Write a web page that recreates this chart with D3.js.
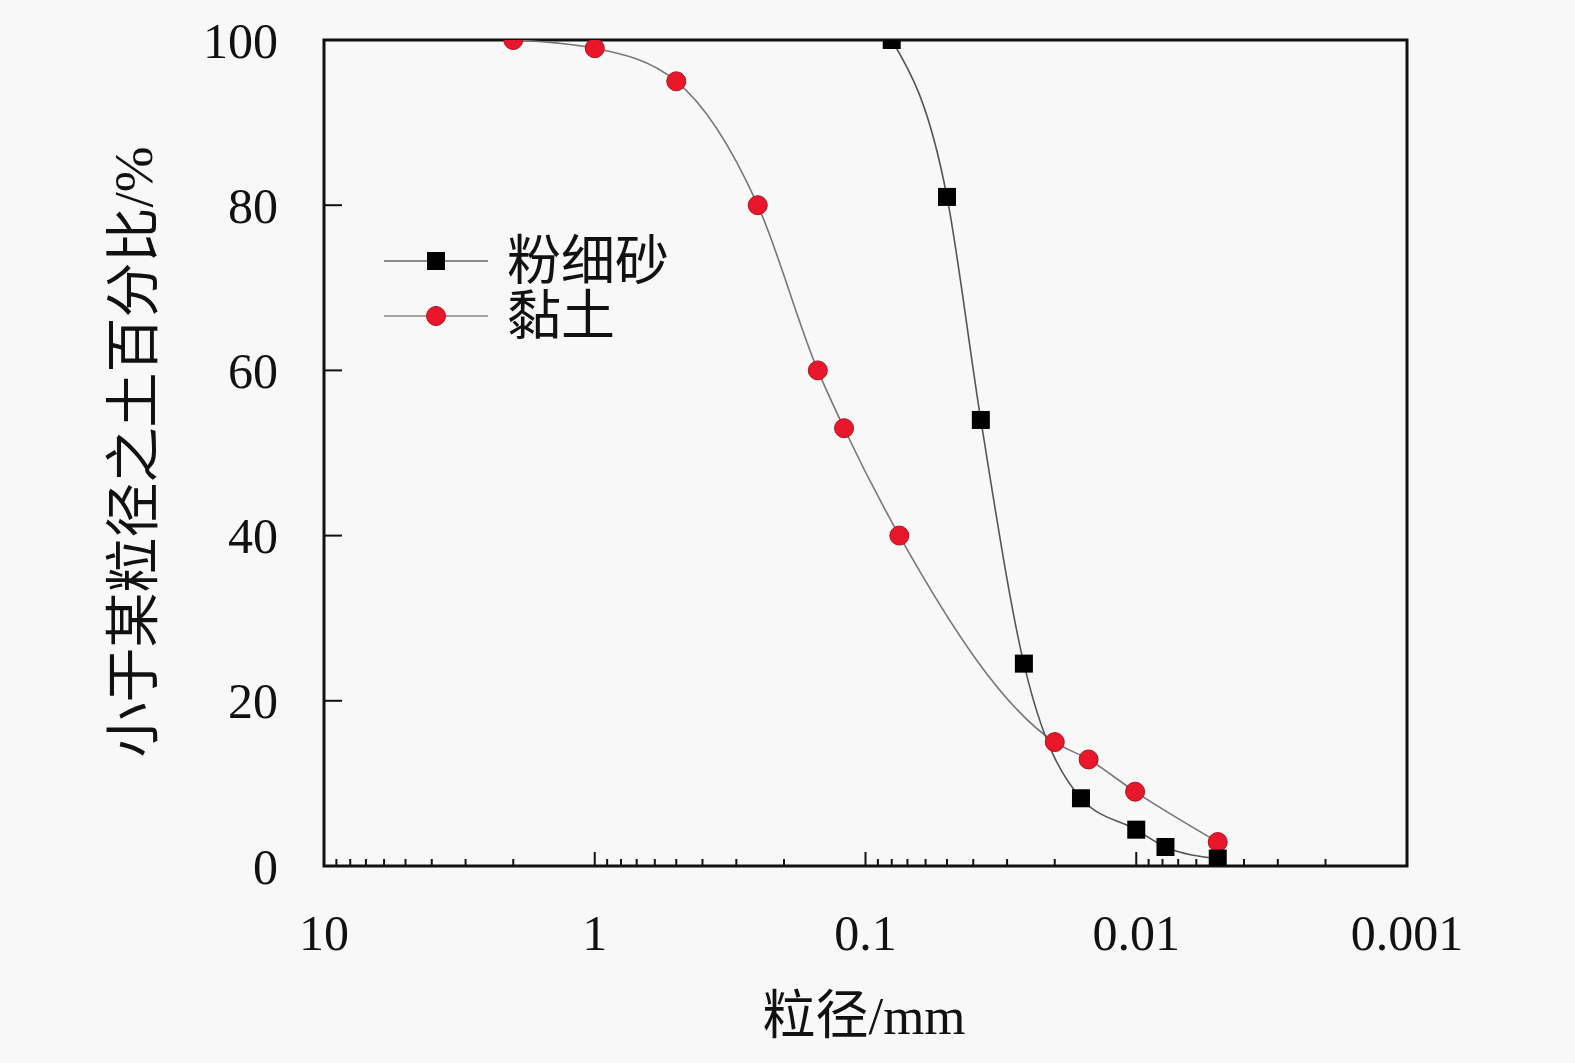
<!DOCTYPE html>
<html>
<head>
<meta charset="utf-8">
<script src="https://cdn.jsdelivr.net/npm/d3@7"></script>
<style>
  html, body { margin: 0; background: #f8f8f8; overflow: hidden; }
  svg { display: block; }
  text { font-family: "Liberation Serif", "Noto Sans CJK SC", serif; fill: #111; }
</style>
</head>
<body>
<svg id="chart"></svg>
<script>
// Data
var sandSize = [0.08, 0.05, 0.0375, 0.026, 0.016, 0.01, 0.0078, 0.005];
var sandPct  = [100, 81, 54, 24.5, 8.2, 4.4, 2.3, 0.9];
var claySize = [2, 1, 0.5, 0.25, 0.15, 0.12, 0.075, 0.02, 0.015, 0.0101, 0.005];
var clayPct  = [100, 99, 95, 80, 60, 53, 40, 15, 12.9, 9, 2.9];
var seriesNames = ["粉细砂", "黏土"];
var xTicks = [10, 1, 0.1, 0.01, 0.001];
var yTicks = [0, 20, 40, 60, 80, 100];

// Chart size params
var margin = {top: 40, left: 324};
var width = 1083;
var height = 826;

var x = d3.scaleLog().domain([10, 0.001]).range([0, width]),
    y = d3.scaleLinear().domain([0, 100]).range([height, 0]);

var svg = d3.select("#chart")
    .attr("width", 1575)
    .attr("height", 1063)
  .append("g")
    .attr("transform", "translate(" + margin.left + "," + margin.top + ")");

svg.append("defs").append("clipPath")
    .attr("id", "clip")
  .append("rect")
    .attr("width", width)
    .attr("height", height);

// Minor + major ticks on x (pointing inside)
var minor = [];
[10, 1, 0.1, 0.01].forEach(function(d) {
  for (var k = 2; k <= 9; k++) minor.push(d / 10 * k);
});
svg.selectAll(".xminor")
    .data(minor)
  .enter().append("line")
    .attr("x1", function(d) { return x(d); })
    .attr("x2", function(d) { return x(d); })
    .attr("y1", height)
    .attr("y2", height - 7)
    .style("stroke", "#111")
    .style("stroke-width", 2);

svg.selectAll(".xmajor")
    .data(xTicks)
  .enter().append("line")
    .attr("x1", function(d) { return x(d); })
    .attr("x2", function(d) { return x(d); })
    .attr("y1", height)
    .attr("y2", height - 14)
    .style("stroke", "#111")
    .style("stroke-width", 2);

svg.selectAll(".xlabel")
    .data(xTicks)
  .enter().append("text")
    .attr("x", function(d) { return x(d); })
    .attr("y", height + 84)
    .attr("text-anchor", "middle")
    .style("font-size", "50px")
    .text(function(d) { return d; });

svg.selectAll(".ytick")
    .data(yTicks)
  .enter().append("line")
    .attr("x1", 0)
    .attr("x2", 18)
    .attr("y1", function(d) { return y(d); })
    .attr("y2", function(d) { return y(d); })
    .style("stroke", "#111")
    .style("stroke-width", 2);

svg.selectAll(".ylabel")
    .data(yTicks)
  .enter().append("text")
    .attr("x", -46)
    .attr("y", function(d) { return y(d); })
    .attr("dy", ".35em")
    .attr("text-anchor", "end")
    .style("font-size", "50px")
    .text(function(d) { return d; });

// Frame
svg.append("rect")
    .attr("width", width)
    .attr("height", height)
    .style("fill", "none")
    .style("stroke", "#111")
    .style("stroke-width", 3);

// Axis titles
svg.append("text")
    .attr("x", 540)
    .attr("y", height + 168)
    .attr("text-anchor", "middle")
    .style("font-size", "53px")
    .text("粒径/mm");

svg.append("text")
    .attr("transform", "translate(-172,412)rotate(-90)")
    .attr("text-anchor", "middle")
    .style("font-size", "55px")
    .text("小于某粒径之土百分比/%");

// Series
var line = d3.line()
    .x(function(d) { return x(d[0]); })
    .y(function(d) { return y(d[1]); })
    .curve(d3.curveMonotoneX);

var sand = sandSize.map(function(d, i) { return [d, sandPct[i]]; });
var clay = claySize.map(function(d, i) { return [d, clayPct[i]]; });

var plot = svg.append("g").attr("clip-path", "url(#clip)");

plot.append("path")
    .datum(clay)
    .attr("d", line)
    .style("fill", "none")
    .style("stroke", "#777")
    .style("stroke-width", 1.6);

plot.append("path")
    .datum(sand)
    .attr("d", line)
    .style("fill", "none")
    .style("stroke", "#555")
    .style("stroke-width", 1.6);

plot.selectAll(".clay")
    .data(clay)
  .enter().append("circle")
    .attr("cx", function(d) { return x(d[0]); })
    .attr("cy", function(d) { return y(d[1]); })
    .attr("r", 9.5)
    .style("fill", "#e8182a")
    .style("stroke", "#b01020")
    .style("stroke-width", 1);

plot.selectAll(".sand")
    .data(sand)
  .enter().append("rect")
    .attr("x", function(d) { return x(d[0]) - 9; })
    .attr("y", function(d) { return y(d[1]) - 9; })
    .attr("width", 18)
    .attr("height", 18)
    .style("fill", "#000");

// Legend
var legend = svg.append("g");
var ly = [221, 276];

legend.selectAll(".lline")
    .data(ly)
  .enter().append("line")
    .attr("x1", 60)
    .attr("x2", 164)
    .attr("y1", function(d) { return d; })
    .attr("y2", function(d) { return d; })
    .style("stroke", function(d, i) { return i ? "#888" : "#666"; })
    .style("stroke-width", 1.6);

legend.append("rect")
    .attr("x", 112 - 9)
    .attr("y", ly[0] - 9)
    .attr("width", 18)
    .attr("height", 18)
    .style("fill", "#000");

legend.append("circle")
    .attr("cx", 112)
    .attr("cy", ly[1])
    .attr("r", 9.5)
    .style("fill", "#e8182a")
    .style("stroke", "#b01020");

legend.selectAll(".ltext")
    .data(seriesNames)
  .enter().append("text")
    .attr("x", 183)
    .attr("y", function(d, i) { return ly[i]; })
    .attr("dy", ".35em")
    .style("font-size", "54px")
    .text(function(d) { return d; });
</script>
</body>
</html>
